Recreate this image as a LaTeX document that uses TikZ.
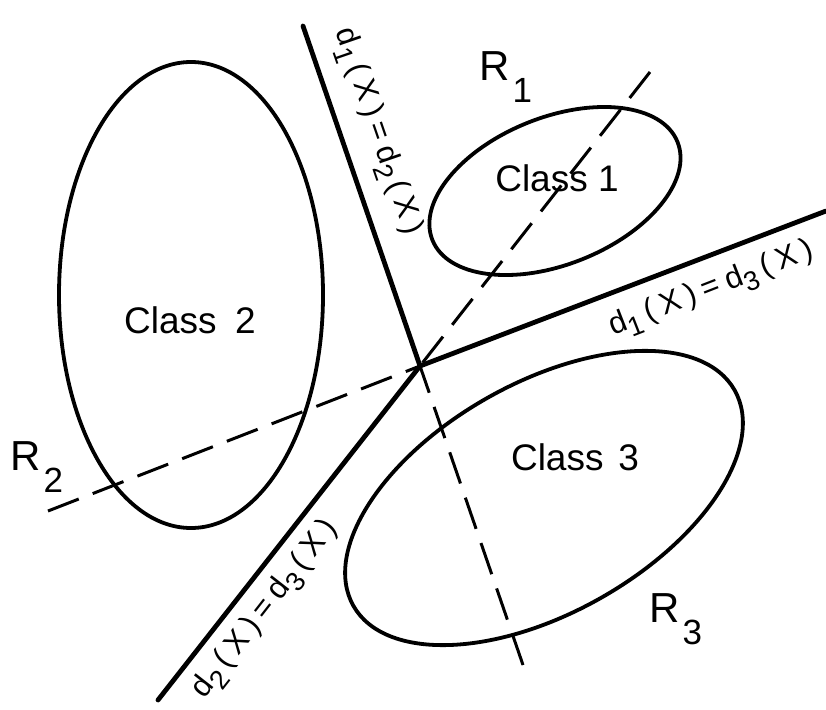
\documentclass[tikz,border=0pt]{standalone}
\usepackage{fontspec}
\setmainfont{Liberation Sans}
\newcommand\lsub[1]{\raisebox{-9pt}{\fontsize{27}{30}\selectfont #1}}
\newcommand\rsub[1]{\hspace{3pt}\raisebox{-22pt}{\fontsize{35}{40}\selectfont #1}}
\begin{document}
\begin{tikzpicture}[x=1pt,y=-1pt,
  bound/.style={line width=4.8pt, line cap=round},
  ext/.style={line width=3pt, dash pattern=on 33pt off 15pt},
  cls/.style={line width=3.8pt},
  lbl/.style={font=\fontsize{31}{36}\selectfont\addfontfeature{LetterSpace=22}, inner sep=0pt},
  ctext/.style={font=\fontsize{37}{44}\selectfont, inner sep=0pt},
  rtext/.style={font=\fontsize{42}{50}\selectfont, inner sep=0pt, anchor=base west}]
\useasboundingbox (0,0) rectangle (826,709);
% decision boundaries
\coordinate (O) at (420,366);
\coordinate (A1) at (303,26);
\coordinate (A2) at (523,665);
\coordinate (B1) at (826,211);
\coordinate (B2) at (48,511);
\coordinate (C1) at (158,700);
\coordinate (C2) at (650,72);
\draw[bound] (A1) -- (O);
\draw[bound] (O) -- (B1);
\draw[bound] (O) -- (C1);
\draw[ext] (A2) -- (O);
\draw[ext] (B2) -- (O);
\draw[ext] (C2) -- (O);
% classes
\coordinate (E1) at (555,191);
\coordinate (E2) at (191,295);
\coordinate (E3) at (544,498);
\draw[cls, rotate around={21.8:(E1)}] (E1) ellipse [x radius=132pt, y radius=73.5pt];
\draw[cls] (E2) ellipse [x radius=132pt, y radius=233pt];
\draw[cls, rotate around={29.5:(E3)}] (E3) ellipse [x radius=219pt, y radius=115pt];
\node[ctext] (k1) at (557,178) {Class 1};
\node[ctext] (k2) at (190,320) {Class\hspace{0.5em}2};
\node[ctext] (k3) at (575,457) {Class\hspace{0.4em}3};
% boundary labels
\node[lbl, rotate=-71] (L12) at (377,132) {d\lsub{1}\,(X)=d\lsub{2}\,(X)};
\node[lbl, rotate=21.3] (L13) at (712,290) {d\lsub{1}\,(X)=d\lsub{3}\,(X)};
\node[lbl, rotate=52] (L23) at (266,610) {d\lsub{2}\,(X)=d\lsub{3}\,(X)};
% region labels
\node[rtext] (R1) at (479,80) {R\rsub{1}};
\node[rtext] (R2) at (10,470) {R\rsub{2}};
\node[rtext] (R3) at (649,622) {R\rsub{3}};
\end{tikzpicture}
\end{document}
